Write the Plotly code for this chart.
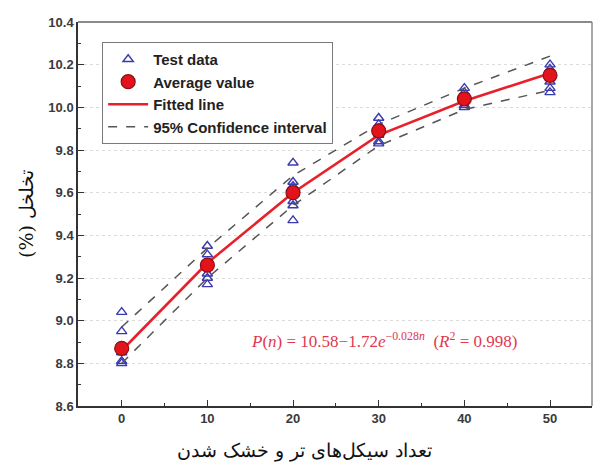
import plotly.graph_objects as go

# Wet-dry cycle counts
cycles = [0, 10, 20, 30, 40, 50]

# Individual porosity measurements (%) per cycle count
test_x = [0]*6 + [10]*6 + [20]*6 + [30]*6 + [40]*6 + [50]*6
test_y = [9.04, 8.95, 8.88, 8.85, 8.81, 8.80,
          9.35, 9.31, 9.27, 9.22, 9.20, 9.17,
          9.74, 9.65, 9.63, 9.56, 9.54, 9.47,
          9.95, 9.92, 9.90, 9.87, 9.84, 9.83,
          10.09, 10.07, 10.05, 10.03, 10.01, 10.00,
          10.20, 10.18, 10.15, 10.12, 10.09, 10.07]

# Mean porosity per cycle count
avg_y = [8.87, 9.26, 9.60, 9.89, 10.04, 10.15]

# Fitted curve and its 95% confidence band
fit_y = [8.86, 9.27, 9.60, 9.87, 10.03, 10.16]
ci_upper = [8.97, 9.34, 9.68, 9.92, 10.09, 10.24]
ci_lower = [8.80, 9.20, 9.54, 9.82, 9.99, 10.08]

x_ticks = [0, 10, 20, 30, 40, 50]
y_ticks = [8.6, 8.8, 9.0, 9.2, 9.4, 9.6, 9.8, 10.0, 10.2, 10.4]

fig = go.Figure()

fig.add_trace(go.Scatter(
    x=test_x, y=test_y, mode="markers", name="Test data", legendrank=1,
    marker=dict(symbol="triangle-up-open", size=9, color="#3b3bb0",
                line=dict(width=1.4, color="#3b3bb0")),
))
fig.add_trace(go.Scatter(
    x=cycles, y=fit_y, mode="lines", name="Fitted line", legendrank=3,
    line=dict(color="#e8202a", width=2.6),
))
fig.add_trace(go.Scatter(
    x=cycles, y=ci_upper, mode="lines", name="95% Confidence interval",
    legendrank=4,
    line=dict(color="#555555", width=1.5, dash="dash"),
))
fig.add_trace(go.Scatter(
    x=cycles, y=ci_lower, mode="lines", name="95% Confidence interval",
    showlegend=False,
    line=dict(color="#555555", width=1.5, dash="dash"),
))
# Averages drawn last so they sit on top of the lines
fig.add_trace(go.Scatter(
    x=cycles, y=avg_y, mode="markers", name="Average value", legendrank=2,
    marker=dict(symbol="circle", size=14, color="#e3131b",
                line=dict(width=1.2, color="#8a0f14")),
))

tick_font = dict(family="Liberation Sans, Arial, sans-serif", size=13,
                 color="#3a3a3a", weight="bold")
title_font = dict(family="DejaVu Serif, Noto Sans, serif", size=19, color="#111")

fig.update_layout(
    width=594, height=463,
    margin=dict(l=78, r=2, t=22, b=57),
    plot_bgcolor="white", paper_bgcolor="white",
    showlegend=True,
    legend=dict(
        x=0.047, y=0.948, xanchor="left", yanchor="top",
        bgcolor="white", bordercolor="#7a7a7a", borderwidth=1,
        font=dict(family="Liberation Sans, Arial, sans-serif", size=15,
                  color="#222222", weight="bold"),
        itemwidth=40, tracegroupgap=0,
    ),
    xaxis=dict(
        range=[-5.1, 54.9], tickvals=x_ticks,
        ticks="inside", ticklen=6, tickwidth=1.2, tickcolor="#333",
        minor=dict(dtick=5, tick0=0, ticks="inside", ticklen=3, tickcolor="#333"),
        showline=True, linecolor="#333", linewidth=1.5,
        showgrid=False, zeroline=False,
        tickfont=tick_font,
    ),
    yaxis=dict(
        range=[8.6, 10.4], tickvals=y_ticks, tickformat=".1f",
        ticks="inside", ticklen=6, tickwidth=1.2, tickcolor="#333",
        minor=dict(dtick=0.1, tick0=8.6, ticks="inside", ticklen=3, tickcolor="#333",
                   showgrid=False),
        showline=True, linecolor="#333", linewidth=1.5,
        showgrid=True, gridcolor="#dcdcdc", griddash="dot", gridwidth=1,
        zeroline=False,
        tickfont=tick_font,
        title=dict(text="(%) تخلخل", font=title_font, standoff=10),
    ),
    shapes=[
        dict(type="line", xref="paper", yref="paper", x0=0, x1=1, y0=1, y1=1,
             line=dict(color="#8a8a8a", width=2)),
        dict(type="line", xref="paper", yref="paper", x0=1, x1=1, y0=0, y1=1,
             line=dict(color="#8a8a8a", width=1.5)),
    ],
    annotations=[
        dict(x=30.6, y=8.91, xref="x", yref="y", showarrow=False,
             text="<i>P</i>(<i>n</i>) = 10.58−1.72<i>e</i><sup>−0.028<i>n</i></sup>  (<i>R</i><sup>2</sup> = 0.998)",
             font=dict(family="Liberation Serif, Times New Roman, serif", size=17,
                       color="#e0384f")),
        dict(x=0.44, y=-0.115, xref="paper", yref="paper", showarrow=False,
             xanchor="center", yanchor="middle",
             text="تعداد سیکل‌های تر و خشک شدن", font=title_font),
    ],
)

fig.write_html("out.html")
